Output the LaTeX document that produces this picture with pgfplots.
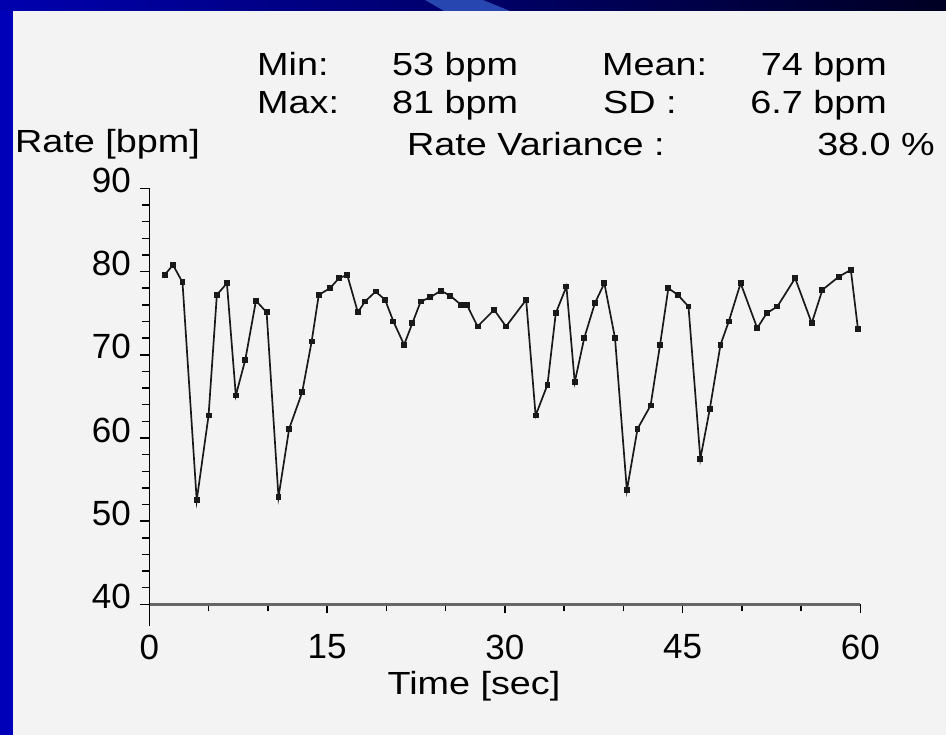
\documentclass[border=0pt]{standalone}
\usepackage{pgfplots}
\pgfplotsset{compat=1.18}
\usepackage{graphicx}
\usepackage{fontspec}
\setmainfont{Liberation Sans}
\definecolor{slideblue}{RGB}{0,0,185}
\definecolor{barleft}{RGB}{0,0,175}
\definecolor{barright}{RGB}{0,0,35}
\definecolor{swoosh}{RGB}{40,70,175}
\definecolor{panel}{RGB}{243,243,243}
\newcommand{\T}[1]{\scalebox{1.18}[1]{\fontsize{32bp}{38bp}\selectfont #1}}
\begin{document}
\begin{tikzpicture}[x=1bp,y=1bp]
\fill[slideblue] (0,0) rectangle (946,735);
\shade[left color=barleft, right color=barright] (0,724) rectangle (946,735);
\fill[swoosh] (425,735) -- (483,735) -- (510,724) -- (444,724) -- cycle;
\fill[panel] (13,0) rectangle (946,724);
\begin{axis}[
  name=ax,
  at={(126,157)}, anchor=south west,
  scale only axis, width=711bp, height=416bp,
  xmin=0, xmax=60, ymin=40, ymax=90,
  axis x line=bottom, axis y line=left,
  axis line style={-},
  x axis line style={line width=3bp, color=black!60},
  y axis line style={line width=1.6bp, color=black},
  xtick={0,15,30,45,60},
  minor xtick={5,10,20,25,35,40,50,55},
  ytick={40,50,60,70,80,90},
  minor ytick={42,44,...,88},
  tick align=outside,
  major tick length=9bp, minor tick length=7bp,
  every tick/.style={line width=1.5bp, black},
  /pgf/number format/assume math mode=true,
  tick label style={font=\fontsize{35bp}{38bp}\selectfont},
  yticklabel style={yshift=8bp, xshift=-6bp},
  xticklabel style={yshift=-18bp},
  clip=false,
]
\addplot[black!90, line width=1.7bp, mark=square*, mark size=2.1bp] coordinates {
(1.3,79.6) (2.0,80.8) (2.8,78.7) (4.0,52.5) (5.0,62.7) (5.7,77.2) (6.55,78.6)
(7.3,65.1) (8.1,69.4) (9.0,76.5) (9.9,75.1) (10.9,52.9) (11.8,61.1) (12.9,65.5)
(13.7,71.6) (14.3,77.2) (15.25,78.0) (16.0,79.2) (16.7,79.6) (17.6,75.1) (18.2,76.4)
(19.1,77.6) (19.9,76.6) (20.6,74.0) (21.5,71.2) (22.2,73.8) (22.9,76.4) (23.7,76.9)
(24.6,77.7) (25.4,77.1) (26.3,76.0) (26.8,76.0) (27.7,73.4) (29.1,75.4) (30.1,73.4)
(31.8,76.6) (32.6,62.7) (33.6,66.4) (34.3,75.0) (35.2,78.2) (35.9,66.7) (36.7,72.0)
(37.6,76.2) (38.4,78.6) (39.3,72.0) (40.3,53.7) (41.2,61.1) (42.3,63.9) (43.1,71.2)
(43.8,78.0) (44.6,77.2) (45.5,75.8) (46.5,57.5) (47.3,63.5) (48.2,71.2) (48.9,74.0)
(49.9,78.6) (51.3,73.2) (52.1,75.0) (53.0,75.8) (54.5,79.2) (55.9,73.8) (56.8,77.8)
(58.2,79.4) (59.2,80.2) (59.8,73.1)
};
\draw[line width=1.6bp] (axis cs:0,40) -- ([yshift=-22bp]axis cs:0,40);
\end{axis}
\node[anchor=base west, inner sep=0pt] at (257,659) {\T{Min:}};
\node[anchor=base west, inner sep=0pt] at (392,659) {\T{53 bpm}};
\node[anchor=base west, inner sep=0pt] at (602,659) {\T{Mean:}};
\node[anchor=base east, inner sep=0pt] at (887,659) {\T{74 bpm}};
\node[anchor=base west, inner sep=0pt] at (257,621) {\T{Max:}};
\node[anchor=base west, inner sep=0pt] at (392,621) {\T{81 bpm}};
\node[anchor=base west, inner sep=0pt] at (603,621) {\T{SD :}};
\node[anchor=base east, inner sep=0pt] at (887,621) {\T{6.7 bpm}};
\node[anchor=base west, inner sep=0pt] at (407,579) {\T{Rate Variance :}};
\node[anchor=base east, inner sep=0pt] at (935,579) {\T{38.0 \%}};
\node[anchor=base west, inner sep=0pt] at (15,582) {\T{Rate [bpm]}};
\node[anchor=base, inner sep=0pt] at (474,40) {\T{Time [sec]}};
\end{tikzpicture}
\end{document}
